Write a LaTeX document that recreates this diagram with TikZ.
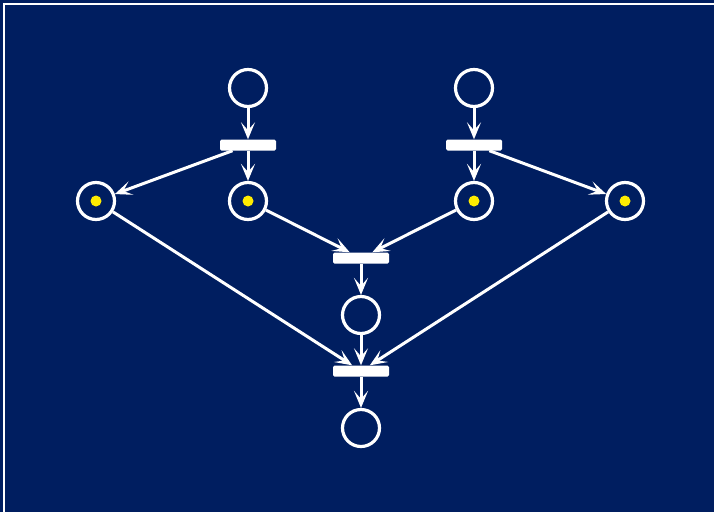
\documentclass[tikz,border=0pt]{standalone}
\usetikzlibrary{arrows.meta}
\definecolor{navy}{RGB}{0,30,96}
\definecolor{tokenyellow}{RGB}{255,236,0}
\begin{document}
\begin{tikzpicture}[x=1pt,y=-1pt,
  place/.style={circle,draw=white,line width=3.2pt,minimum size=37pt,inner sep=0pt},
  trans/.style={rectangle,fill=white,rounded corners=1.5pt,minimum width=56pt,minimum height=11pt,inner sep=0pt},
  token/.style={circle,fill=tokenyellow,minimum size=11pt,inner sep=0pt},
  arc/.style={draw=white,line width=3pt,-{Stealth[length=17pt,width=14pt,inset=8pt]}}]
\useasboundingbox (0,0) rectangle (714,512);
\fill[navy] (0,0) rectangle (714,512);
\begin{scope}
\clip (0,0) rectangle (714,512);
\draw[white,line width=2.8pt] (4,4) rectangle (730,530);
\end{scope}
% places
\node[place] (p1) at (248,88) {};
\node[place] (p2) at (474,88) {};
\node[place] (p3) at (96,201) {};
\node[place] (p4) at (248,201) {};
\node[place] (p5) at (474,201) {};
\node[place] (p6) at (625,201) {};
\node[place] (p7) at (361,315) {};
\node[place] (p8) at (361,428) {};
% tokens
\node[token] (k3) at (p3) {};
\node[token] (k4) at (p4) {};
\node[token] (k5) at (p5) {};
\node[token] (k6) at (p6) {};
% transitions
\node[trans] (t1) at (248,145) {};
\node[trans] (t2) at (474,145) {};
\node[trans] (t3) at (361,258) {};
\node[trans] (t4) at (361,371) {};
% arcs
\draw[arc] (p1) -- (t1);
\draw[arc] (p2) -- (t2);
\draw[arc] (t1) -- (p3);
\draw[arc] (t1) -- (p4);
\draw[arc] (t2) -- (p5);
\draw[arc] (t2) -- (p6);
\draw[arc] (p4) -- (t3);
\draw[arc] (p5) -- (t3);
\draw[arc] (t3) -- (p7);
\draw[arc] (p7) -- (t4);
\draw[arc] (p3) -- (t4);
\draw[arc] (p6) -- (t4);
\draw[arc] (t4) -- (p8);
\end{tikzpicture}
\end{document}
